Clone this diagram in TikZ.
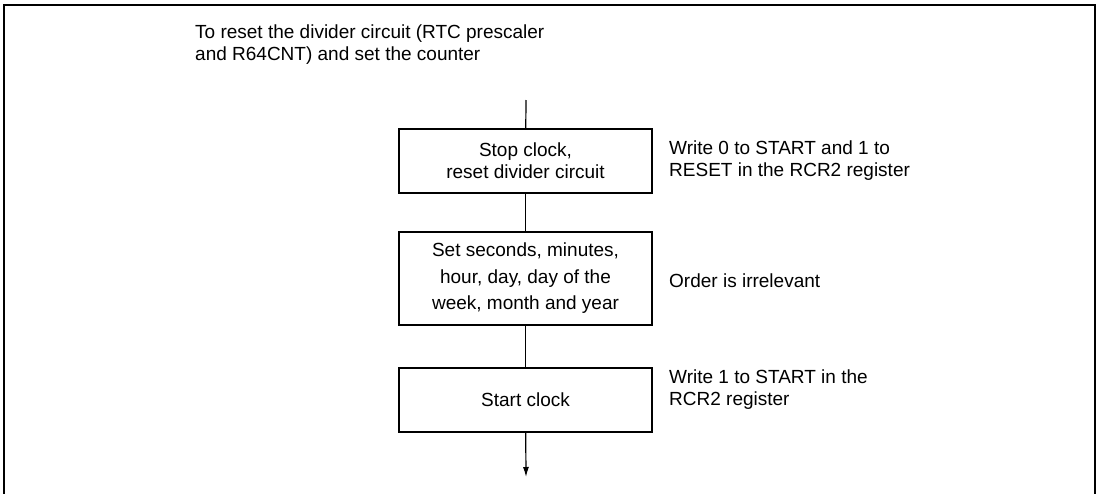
\documentclass[tikz,border=0pt]{standalone}
\usepackage{fontspec}
\setmainfont{Liberation Sans}
\usetikzlibrary{arrows.meta}
\begin{document}
\begin{tikzpicture}[x=1pt,y=-1pt,
  every node/.style={inner sep=0pt, font=\fontsize{19}{22}\selectfont},
  stepbox/.style={draw, line width=2pt, minimum width=253pt, align=center},
  conn/.style={line width=1.2pt},
  note/.style={anchor=west, align=left}]
\useasboundingbox (0,0) rectangle (1100,493);
\draw[line width=2.5pt] (4,500) -- (4,5) -- (1095,5) -- (1095,500);
\node[anchor=north west, align=left] (title) at (195,25)
  {To reset the divider circuit (RTC prescaler\\and R64CNT) and set the counter};
\coordinate (start) at (526,100);
\node[stepbox, minimum height=64pt] (b1) at (525.5,161) {Stop clock,\\reset divider circuit};
\node[stepbox, minimum height=93pt, font=\fontsize{19}{26.5}\selectfont] (b2) at (525.5,278.5) {Set seconds, minutes,\\hour, day, day of the\\week, month and year};
\node[stepbox, minimum height=64pt] (b3) at (525.5,400) {Start clock};
\coordinate (end) at (526,477);
\draw[conn] (start) -- (b1);
\draw[conn] (b1) -- (b2);
\draw[conn] (b2) -- (b3);
\draw[conn, -{Latex[length=10pt,width=6pt]}] (b3) -- (end);
\node[note] (n1) at (669,161) {Write 0 to START and 1 to\\RESET in the RCR2 register};
\node[note] (n2) at (669,281) {Order is irrelevant};
\node[note] (n3) at (669,390) {Write 1 to START in the\\RCR2 register};
\end{tikzpicture}
\end{document}
